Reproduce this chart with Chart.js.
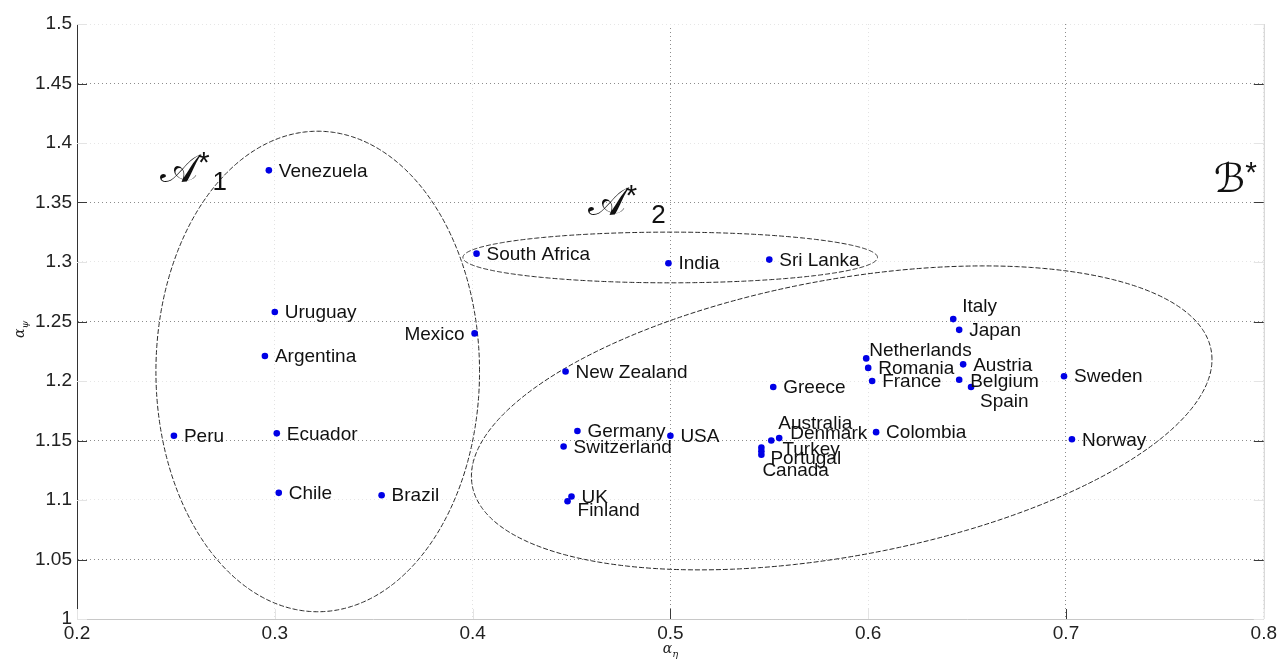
<!DOCTYPE html>
<html>
<head>
<meta charset="utf-8">
<script src="https://cdn.jsdelivr.net/npm/chart.js@4.4.1/dist/chart.umd.min.js"></script>
<style>
  html, body { margin: 0; padding: 0; background: #fff; }
  #wrap { width: 1280px; height: 659px; position: relative; }
</style>
</head>
<body>
<div id="wrap"><canvas id="c"></canvas></div>
<script>
// Country estimates: alpha_eta (x) against alpha_psi (y)
const countries = [
  'Venezuela', 'Uruguay', 'Argentina', 'Peru', 'Ecuador', 'Chile', 'Brazil',
  'Mexico', 'South Africa', 'India', 'Sri Lanka',
  'New Zealand', 'Germany', 'USA', 'Switzerland', 'UK', 'Finland',
  'Greece', 'Australia', 'Denmark', 'Turkey', 'Portugal', 'Canada',
  'Netherlands', 'Romania', 'France', 'Colombia',
  'Italy', 'Japan', 'Austria', 'Belgium', 'Spain', 'Sweden', 'Norway'
];
const alphaX = [
  0.297, 0.300, 0.295, 0.249, 0.301, 0.302, 0.354,
  0.401, 0.402, 0.499, 0.550,
  0.447, 0.453, 0.500, 0.446, 0.450, 0.448,
  0.552, 0.551, 0.555, 0.546, 0.546, 0.546,
  0.599, 0.600, 0.602, 0.604,
  0.643, 0.646, 0.648, 0.646, 0.652, 0.699, 0.703
];
const alphaY = [
  1.377, 1.258, 1.221, 1.154, 1.156, 1.106, 1.104,
  1.240, 1.307, 1.299, 1.302,
  1.208, 1.158, 1.154, 1.145, 1.103, 1.099,
  1.195, 1.150, 1.152, 1.144, 1.141, 1.138,
  1.219, 1.211, 1.200, 1.157,
  1.252, 1.243, 1.214, 1.201, 1.195, 1.204, 1.151
];
const xTicks = [0.2, 0.3, 0.4, 0.5, 0.6, 0.7, 0.8];
const yTicks = [1, 1.05, 1.1, 1.15, 1.2, 1.25, 1.3, 1.35, 1.4, 1.45, 1.5];

// Cluster outlines: centre and two conjugate half-diameters (data units)
const clusterCx = [0.3217, 0.4999, 0.5866];
const clusterCy = [1.2080, 1.3038, 1.1690];
const clusterU  = [[0.0818, 0], [0.1048, 0], [0.1872, 0.0491]];
const clusterV  = [[0, 0.2019], [0, 0.0213], [0, 0.1179]];
// Cluster names: letter, superscript, subscript, anchor (data units)
const clusterLetter = ['𝒜', '𝒜', 'ℬ'];
const clusterSup = ['*', '*', '*'];
const clusterSub = ['1', '2', ''];
const clusterTagX = [0.2419, 0.4581, 0.7747];
const clusterTagY = [1.3676, 1.3399, 1.3592];
const clusterSubGap = [3, 14, 0];

// Pixel nudges for crowded country labels: [dx, dy, align]
const labelNudge = {
  'Mexico': [-10, 0, 'right'],
  'Australia': [7, -18],
  'Denmark': [11, -5],
  'Turkey': [21, 1],
  'Portugal': [9, 7],
  'Canada': [1, 15],
  'Netherlands': [3, -9],
  'Finland': [10, 9],
  'Italy': [9, -13],
  'Spain': [9, 14],
  'Belgium': [11, 1]
};

const FONT = '"Liberation Sans", Arial, sans-serif';
const strongY = v => Math.round(v * 100) % 10 === 5;
const strongX = v => [5, 7].includes(Math.round(v * 10));

const points = countries.map((n, i) => ({ x: alphaX[i], y: alphaY[i], name: n }));

const clusterPlugin = {
  id: 'clusters',
  beforeDatasetsDraw(chart) {
    const { ctx, scales: { x, y } } = chart;
    ctx.save();
    ctx.strokeStyle = '#262626';
    ctx.lineWidth = 1;
    ctx.setLineDash([5, 2]);
    for (let k = 0; k < clusterCx.length; k++) {
      ctx.beginPath();
      for (let i = 0; i <= 720; i++) {
        const t = i * Math.PI / 360;
        const dx = clusterCx[k] + clusterU[k][0] * Math.cos(t) + clusterV[k][0] * Math.sin(t);
        const dy = clusterCy[k] + clusterU[k][1] * Math.cos(t) + clusterV[k][1] * Math.sin(t);
        const px = x.getPixelForValue(dx), py = y.getPixelForValue(dy);
        if (i === 0) ctx.moveTo(px, py); else ctx.lineTo(px, py);
      }
      ctx.stroke();
    }
    ctx.setLineDash([]);
    // cluster tags
    ctx.fillStyle = '#111';
    ctx.textBaseline = 'alphabetic';
    for (let k = 0; k < clusterLetter.length; k++) {
      let px = x.getPixelForValue(clusterTagX[k]);
      const py = y.getPixelForValue(clusterTagY[k]);
      ctx.font = '40px "DejaVu Serif", "DejaVu Sans", serif';
      ctx.textAlign = 'left';
      ctx.fillText(clusterLetter[k], px, py);
      px += ctx.measureText(clusterLetter[k]).width;
      ctx.font = '30px ' + FONT;
      ctx.fillText(clusterSup[k], px, py - 10);
      px += ctx.measureText(clusterSup[k]).width + clusterSubGap[k];
      ctx.font = '26px ' + FONT;
      if (clusterSub[k]) ctx.fillText(clusterSub[k], px, py + 8);
    }
    ctx.restore();
  },
  afterDatasetsDraw(chart) {
    const { ctx, scales: { x, y } } = chart;
    ctx.save();
    ctx.font = '19px ' + FONT;
    ctx.fillStyle = '#111';
    ctx.textBaseline = 'middle';
    points.forEach(p => {
      const nd = labelNudge[p.name] || [10, 0];
      ctx.textAlign = nd[2] || 'left';
      ctx.fillText(p.name, x.getPixelForValue(p.x) + nd[0], y.getPixelForValue(p.y) + nd[1] + 1);
    });
    ctx.restore();
  },
  afterDraw(chart) {
    const { ctx, chartArea: a, scales: { x, y } } = chart;
    ctx.save();
    ctx.lineWidth = 1;
    // right frame edge
    ctx.strokeStyle = '#cfcfcf';
    ctx.beginPath(); ctx.moveTo(a.right + 0.5, a.top); ctx.lineTo(a.right + 0.5, a.bottom); ctx.stroke();
    // inward tick marks
    yTicks.forEach(v => {
      const py = Math.round(y.getPixelForValue(v)) + 0.5;
      ctx.strokeStyle = strongY(v) ? '#3a3a3a' : '#e4e4e4';
      ctx.beginPath();
      ctx.moveTo(a.left, py); ctx.lineTo(a.left + 10, py);
      ctx.moveTo(a.right - 10, py); ctx.lineTo(a.right, py);
      ctx.stroke();
    });
    xTicks.forEach(v => {
      const px = Math.round(x.getPixelForValue(v)) + 0.5;
      ctx.strokeStyle = strongX(v) ? '#3a3a3a' : '#e4e4e4';
      ctx.beginPath(); ctx.moveTo(px, a.bottom); ctx.lineTo(px, a.bottom - 10); ctx.stroke();
    });
    // axis titles
    ctx.fillStyle = '#222';
    ctx.textBaseline = 'alphabetic';
    const drawTitle = (cx, cy) => {
      ctx.font = 'italic 14px "DejaVu Serif", serif';
      ctx.textAlign = 'left';
      const w1 = ctx.measureText('α').width;
      ctx.font = 'italic 10px "DejaVu Serif", serif';
      const w2 = ctx.measureText('η').width;
      const x0 = cx - (w1 + w2) / 2;
      ctx.font = 'italic 14px "DejaVu Serif", serif';
      ctx.fillText('α', x0, cy);
      ctx.font = 'italic 10px "DejaVu Serif", serif';
      ctx.fillText('η', x0 + w1, cy + 4);
    };
    drawTitle((a.left + a.right) / 2, 653);
    ctx.save();
    ctx.translate(24, 330);
    ctx.rotate(-Math.PI / 2);
    ctx.font = 'italic 14px "DejaVu Serif", serif';
    const wa = ctx.measureText('α').width;
    ctx.fillText('α', -8, 0);
    ctx.font = 'italic 10px "DejaVu Serif", serif';
    ctx.fillText('ψ', -8 + wa, 4);
    ctx.restore();
    ctx.restore();
  }
};

new Chart(document.getElementById('c'), {
  type: 'scatter',
  data: {
    datasets: [{
      data: points,
      pointRadius: 3.3,
      pointHoverRadius: 3.3,
      pointBackgroundColor: '#0000e6',
      pointBorderWidth: 0,
      showLine: false
    }]
  },
  options: {
    responsive: true,
    maintainAspectRatio: false,
    animation: false,
    events: [],
    layout: { padding: { top: 24, right: 14, bottom: 0, left: 0 } },
    plugins: { legend: { display: false }, tooltip: { enabled: false } },
    scales: {
      x: {
        type: 'linear', min: 0.2, max: 0.8,
        afterBuildTicks: s => { s.ticks = xTicks.map(v => ({ value: v })); },
        afterFit: s => { s.height = 40; },
        ticks: {
          font: { family: FONT, size: 19 }, color: '#222', padding: 3,
          callback: v => String(Math.round(v * 10) / 10)
        },
        grid: {
          drawTicks: false,
          lineWidth: 1,
          color: c => (c.tick && strongX(c.tick.value)) ? '#8c8c8c' : '#e2e2e2'
        },
        border: { display: true, color: '#c8c8c8', width: 1, dash: [1, 3] }
      },
      y: {
        type: 'linear', min: 1, max: 1.5,
        afterBuildTicks: s => { s.ticks = yTicks.map(v => ({ value: v })); },
        afterFit: s => { s.width = 77; },
        ticks: {
          font: { family: FONT, size: 19 }, color: '#222', padding: 5,
          callback: v => String(Math.round(v * 100) / 100)
        },
        grid: {
          drawTicks: false,
          lineWidth: 1,
          color: c => (c.tick && strongY(c.tick.value)) ? '#8c8c8c' : '#e6e6e6'
        },
        border: { display: true, color: '#333', width: 1, dash: [1, 3] }
      }
    }
  },
  plugins: [clusterPlugin]
});
</script>
</body>
</html>
